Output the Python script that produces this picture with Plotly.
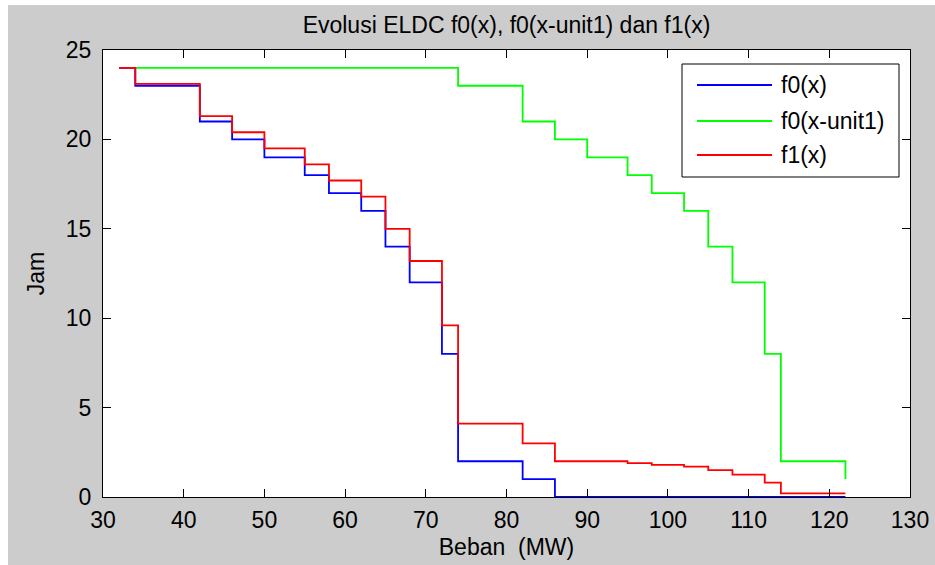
import plotly.graph_objects as go

# ---- data ----
x_f0 = [32, 34, 42, 46, 50, 55, 58, 62, 65, 68, 72, 74, 82, 86, 122]
y_f0 = [24, 23, 21, 20, 19, 18, 17, 16, 14, 12, 8, 2, 1, 0, 0]

x_f0_shift = [34, 74, 82, 86, 90, 95, 98, 102, 105, 108, 112, 114, 122]
y_f0_shift = [24, 23, 21, 20, 19, 18, 17, 16, 14, 12, 8, 2, 1]

x_f1 = [32, 34, 42, 46, 50, 55, 58, 62, 65, 68, 72, 74, 82, 86,
        95, 98, 102, 105, 108, 112, 114, 122]
y_f1 = [24, 23.1, 21.3, 20.4, 19.5, 18.6, 17.7, 16.8, 15.0, 13.2, 9.6, 4.1, 3.0, 2.0,
        1.9, 1.8, 1.7, 1.5, 1.25, 0.8, 0.2, 0.2]

series_names = ["f0(x)", "f0(x-unit1)", "f1(x)"]
series_colors = ["#0000ff", "#00ff00", "#ff0000"]

x_ticks = [30, 40, 50, 60, 70, 80, 90, 100, 110, 120, 130]
y_ticks = [0, 5, 10, 15, 20, 25]

title_text = "Evolusi ELDC f0(x), f0(x-unit1) dan f1(x)"
x_title = "Beban  (MW)"
y_title = "Jam"

# ---- layout geometry (pixels) ----
W, H = 935, 565
ML, MR, MT, MB = 103, 25, 50, 68
PW, PH = W - ML - MR, H - MT - MB
FONT = "Liberation Sans, Arial, sans-serif"
FS = 23
LW = 1.8


def px_x(p):
    return (p - ML) / PW


def px_y(p):
    return (H - MB - p) / PH


fig = go.Figure()
for xs, ys, name, col in zip([x_f0, x_f0_shift, x_f1], [y_f0, y_f0_shift, y_f1],
                             series_names, series_colors):
    fig.add_trace(go.Scatter(x=xs, y=ys, mode="lines", name=name,
                             line=dict(color=col, width=LW, shape="hv"),
                             showlegend=False))

shapes = [
    # thin white border at the left and top of the grey figure
    dict(type="rect", xref="paper", yref="paper", layer="below",
         x0=px_x(-5), x1=px_x(8), y0=px_y(H + 5), y1=px_y(-5),
         fillcolor="white", line=dict(width=0)),
    dict(type="rect", xref="paper", yref="paper", layer="below",
         x0=px_x(-5), x1=px_x(W + 5), y0=px_y(5), y1=px_y(-5),
         fillcolor="white", line=dict(width=0)),
    # legend box
    dict(type="rect", xref="paper", yref="paper", layer="above",
         x0=px_x(682), x1=px_x(899), y0=px_y(177), y1=px_y(64),
         fillcolor="white", line=dict(color="black", width=1)),
]
annotations = []
legend_rows = [85, 121, 155]
for row, name, col in zip(legend_rows, series_names, series_colors):
    shapes.append(dict(type="line", xref="paper", yref="paper", layer="above",
                       x0=px_x(697), x1=px_x(772), y0=px_y(row), y1=px_y(row),
                       line=dict(color=col, width=LW)))
    annotations.append(dict(xref="paper", yref="paper", x=px_x(779), y=px_y(row),
                            xanchor="left", yanchor="middle", text=name,
                            showarrow=False, font=dict(family=FONT, size=FS, color="black")))

fig.update_layout(
    width=W, height=H,
    margin=dict(l=ML, r=MR, t=MT, b=MB, pad=0, autoexpand=False),
    paper_bgcolor="#cccccc", plot_bgcolor="white",
    font=dict(family=FONT, size=FS, color="black"),
    title=dict(text=title_text, x=0.5, xref="paper", xanchor="center",
               y=1 - 25 / H, yref="container", yanchor="middle",
               font=dict(family=FONT, size=FS, color="black")),
    shapes=shapes, annotations=annotations,
    xaxis=dict(range=[30, 130], tickvals=x_ticks, ticktext=[str(v) for v in x_ticks],
               automargin=False,
               ticks="inside", ticklen=8, tickcolor="black", tickwidth=1,
               ticklabelstandoff=2,
               showline=True, linecolor="black", linewidth=1, mirror="ticks",
               showgrid=False, zeroline=False,
               tickfont=dict(family=FONT, size=FS, color="black"),
               title=dict(text=x_title, standoff=7,
                          font=dict(family=FONT, size=FS, color="black"))),
    yaxis=dict(range=[0, 25], tickvals=y_ticks, ticktext=[str(v) for v in y_ticks],
               automargin=False,
               ticks="inside", ticklen=8, tickcolor="black", tickwidth=1,
               ticklabelstandoff=6,
               showline=True, linecolor="black", linewidth=1, mirror="ticks",
               showgrid=False, zeroline=False,
               tickfont=dict(family=FONT, size=FS, color="black"),
               title=dict(text=y_title, standoff=14,
                          font=dict(family=FONT, size=FS, color="black"))),
)

fig.write_html(
    "out.html",
    config={"displayModeBar": False},
    post_script="document.body.style.margin='0';document.body.style.overflow='hidden';",
)
